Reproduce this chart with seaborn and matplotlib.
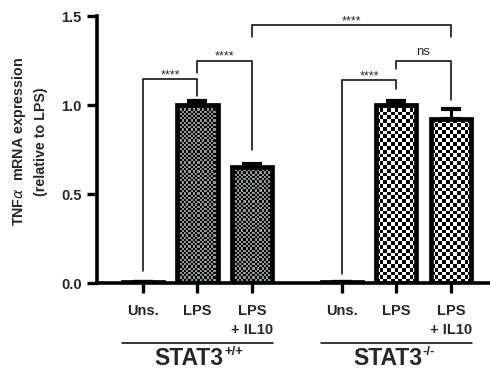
import numpy as np
import pandas as pd
import matplotlib
matplotlib.use("Agg")
import matplotlib.pyplot as plt
import matplotlib.transforms as mtransforms
from matplotlib.patches import Rectangle
import seaborn as sns

# ---- data ----
groups = ["STAT3+/+", "STAT3-/-"]
group_base = ["STAT3", "STAT3"]
group_sup = ["+/+", "-/-"]
treatments = ["Uns.", "LPS", "LPS\n+ IL10"]
means_wt = [0.005, 1.00, 0.65]
sem_wt = [0.0, 0.02, 0.02]
means_ko = [0.005, 1.00, 0.92]
sem_ko = [0.0, 0.02, 0.06]
# brackets: (bar i, bar j, top y, left leg end, right leg end, label)
br_i = [0, 1, 2, 3, 4]
br_j = [1, 2, 5, 4, 5]
br_top = [1.147, 1.25, 1.45, 1.14, 1.25]
br_left = [0.07, 1.18, 1.38, 0.05, 1.20]
br_right = [1.05, 0.75, 1.38, 1.09, 1.03]
br_label = ["****", "****", "****", "****", "ns"]

# ---- style ----
sns.set_theme(style="ticks")
plt.rcParams["font.family"] = ["Liberation Sans", "DejaVu Sans"]

gap = 1.65
pos = [g * (len(treatments) - 1 + gap) + i for g in range(2) for i in range(3)]
df = pd.DataFrame({
    "pos": pos,
    "mean": means_wt + means_ko,
    "sem": sem_wt + sem_ko,
    "group": [groups[0]] * 3 + [groups[1]] * 3,
})

fig = plt.figure(figsize=(4.9, 3.69), dpi=100)
ax = fig.add_axes([0.198, 0.233, 0.802, 0.7236])

sns.barplot(data=df, x="pos", y="mean", native_scale=True, width=0.74,
            color="black", errorbar=None, ax=ax, linewidth=0, zorder=2)

# checkerboard fills
bars = sorted(ax.patches, key=lambda p: p.get_x())
px_per_x = 54.5
px_per_y = 177.5
for bar, grp in zip(bars, df["group"]):
    x0, w = bar.get_x(), bar.get_width()
    h = bar.get_height()
    if grp == groups[0]:
        cell, c1, c2 = 2.2, (0, 0, 0), (0.55, 0.6, 0.6)
    else:
        cell, c1, c2 = 3.8, (0, 0, 0), (1, 1, 1)
    nx = max(1, int(round(w * px_per_x / cell)))
    ny = max(1, int(round(h * px_per_y / cell)))
    ii, jj = np.indices((ny, nx))
    chk = ((ii + jj) % 2).astype(float)
    img = np.zeros((ny, nx, 3))
    for c in range(3):
        img[..., c] = np.where(chk == 1, c2[c], c1[c])
    im = ax.imshow(img, extent=(x0, x0 + w, 0, h), aspect="auto",
                   interpolation="nearest", zorder=2.5, origin="lower")
    im.set_clip_path(bar)
    ax.add_patch(Rectangle((x0, 0), w, h, fill=False, edgecolor="black",
                           linewidth=3.4, zorder=3))

# error bars (upper only)
ax.errorbar(df["pos"], df["mean"], yerr=[np.zeros(len(df)), df["sem"]],
            fmt="none", ecolor="black", elinewidth=2.2, capsize=7, capthick=3,
            zorder=4)

# significance brackets
for i, j, top, yl, yr, lab in zip(br_i, br_j, br_top, br_left, br_right, br_label):
    xi, xj = pos[i], pos[j]
    ax.plot([xi, xi, xj, xj], [yl, top, top, yr], color="black", lw=1.1,
            zorder=5, solid_joinstyle="miter")
    if lab == "ns":
        ax.text((xi + xj) / 2, top + 0.015, lab, ha="center", va="bottom",
                fontsize=9.5)
    else:
        ax.text((xi + xj) / 2, top - 0.012, lab, ha="center", va="bottom",
                fontsize=9)

ax.set_xlim(-0.844, 6.37)
ax.set_ylim(0, 1.5)
ax.set_yticks([0, 0.5, 1.0, 1.5])
ax.set_yticklabels(["0.0", "0.5", "1.0", "1.5"], fontweight="bold", fontsize=10.5)
ax.set_xticks(pos)
ax.set_xticklabels(treatments * 2, fontweight="bold", fontsize=10.5,
                   linespacing=1.5, va="top")
ax.tick_params(axis="both", width=2.4, length=7, color="black")
ax.tick_params(axis="x", pad=8)
ax.tick_params(axis="y", pad=4)
for s in ["left", "bottom"]:
    ax.spines[s].set_linewidth(2.6)
    ax.spines[s].set_color("black")
sns.despine(ax=ax)
ax.set_xlabel("")
ax.set_ylabel("TNF$\\alpha$  mRNA expression\n(relative to LPS)",
              fontweight="bold", fontsize=10.3, linespacing=1.6)
ax.yaxis.set_label_coords(-0.124, 0.53)

# group underlines and labels
trans = mtransforms.blended_transform_factory(ax.transData, ax.transAxes)
for g in range(2):
    c = pos[g * 3 + 1]
    ax.plot([c - 1.39, c + 1.39], [-0.225, -0.225], color="black", lw=1.1,
            transform=trans, clip_on=False)
    t = ax.text(c - 0.16, -0.307, group_base[g], transform=trans, ha="center",
                va="baseline", fontsize=16.5, fontweight="bold")
    ax.annotate(group_sup[g], xy=(1, 1), xycoords=t, xytext=(0.5, 1),
                textcoords="offset points", ha="left", va="top",
                fontsize=9.5, fontweight="bold")

fig.savefig("out.png", dpi=100)
